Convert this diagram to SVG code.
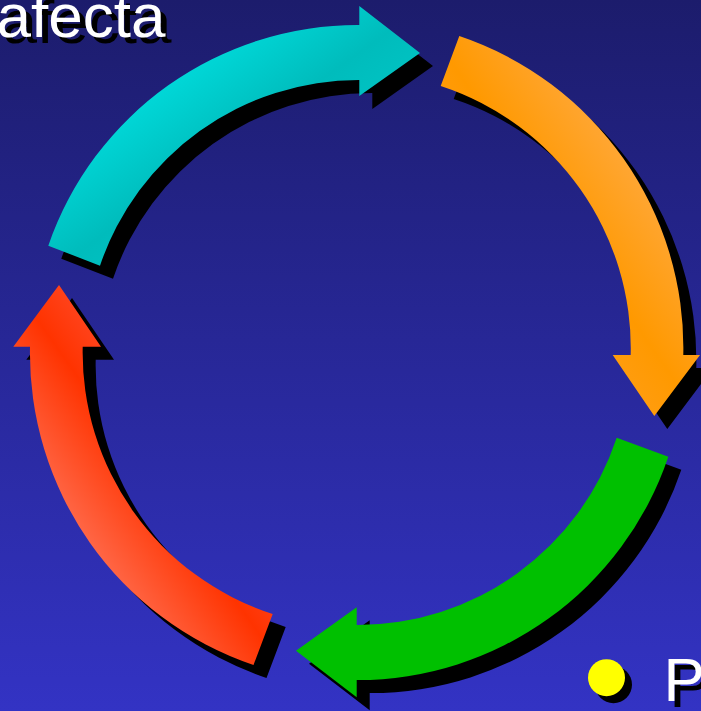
<svg xmlns="http://www.w3.org/2000/svg" xmlns:xlink="http://www.w3.org/1999/xlink" width="701" height="711" viewBox="0 0 701 711">
  <defs>
    <linearGradient id="bg" x1="0" y1="0" x2="0" y2="1">
      <stop offset="0" stop-color="#1c1c6c"/>
      <stop offset="1" stop-color="#3333c4"/>
    </linearGradient>
    <linearGradient id="gTeal" gradientUnits="userSpaceOnUse" x1="158.7" y1="72.5" x2="251.5" y2="202.9">
      <stop offset="0" stop-color="#00dcdc"/>
      <stop offset="0.625" stop-color="#00bcbc"/>
      <stop offset="1" stop-color="#00c4c4"/>
    </linearGradient>
    <linearGradient id="gOrange" gradientUnits="userSpaceOnUse" x1="635.3" y1="150.4" x2="504.4" y2="242.5">
      <stop offset="0" stop-color="#ffa83a"/>
      <stop offset="0.625" stop-color="#ff9900"/>
      <stop offset="1" stop-color="#ff9e14"/>
    </linearGradient>
    <linearGradient id="gRed" gradientUnits="userSpaceOnUse" x1="78" y1="550.7" x2="208.7" y2="458.4">
      <stop offset="0" stop-color="#ff6e50"/>
      <stop offset="0.625" stop-color="#ff3300"/>
      <stop offset="1" stop-color="#ff4a28"/>
    </linearGradient>
    <path id="pTeal" d="M 48.3,245.7 A 327 327 0 0 1 359.3,25 L 359.3,6 L 420,53 L 359.3,96 L 359.3,80 A 273 273 0 0 0 100,265.7 Z"/>
    <path id="pOrange" d="M 459.3,36 A 329 329 0 0 1 683.3,355 L 700,355 L 654.3,416 L 612.7,355 L 630.7,355 A 276 276 0 0 0 440.7,86 Z"/>
    <path id="pGreen" d="M 668.3,456.7 A 328 328 0 0 1 356.7,680 L 356.7,697.3 L 296,650.7 L 356.7,607.3 L 356.7,625 A 273 273 0 0 0 616.7,437.7 Z"/>
    <path id="pRed" d="M 253.5,665 A 329 329 0 0 1 30,346.7 L 13.3,346.7 L 59,285 L 101,346.7 L 82.7,346.7 A 275 275 0 0 0 272.7,614 Z"/>
  </defs>
  <style>
    .shadow { fill: #000000; }
    .txt { font-family: "Liberation Sans", Arial, sans-serif; font-size: 62px; }
    .txtw { fill: #ffffff; }
    .txtk { fill: #000000; }
  </style>
  <rect x="0" y="0" width="701" height="711" fill="url(#bg)"/>

  <g id="text-afecta">
    <text class="txt txtk" x="2.5" y="43">afecta</text>
    <text class="txt txtw" x="-3.5" y="37">afecta</text>
  </g>

  <g id="connectors">
    <g id="shadows" class="shadow" transform="translate(13,13)">
      <use xlink:href="#pTeal" href="#pTeal"/>
      <use xlink:href="#pOrange" href="#pOrange"/>
      <use xlink:href="#pGreen" href="#pGreen"/>
      <use xlink:href="#pRed" href="#pRed"/>
    </g>
    <g id="arrow-teal"><use xlink:href="#pTeal" href="#pTeal" fill="url(#gTeal)"/></g>
    <g id="arrow-orange"><use xlink:href="#pOrange" href="#pOrange" fill="url(#gOrange)"/></g>
    <g id="arrow-green"><use xlink:href="#pGreen" href="#pGreen" fill="#00c000"/></g>
    <g id="arrow-red"><use xlink:href="#pRed" href="#pRed" fill="url(#gRed)"/></g>
  </g>

  <g id="bullet">
    <circle cx="613.5" cy="684.7" r="18.5" fill="#000000"/>
    <circle cx="606.5" cy="677.7" r="18.5" fill="#ffff00"/>
    <text class="txt txtk" x="669.5" y="706.7">P</text>
    <text class="txt txtw" x="663.5" y="700.7">P</text>
  </g>
</svg>
